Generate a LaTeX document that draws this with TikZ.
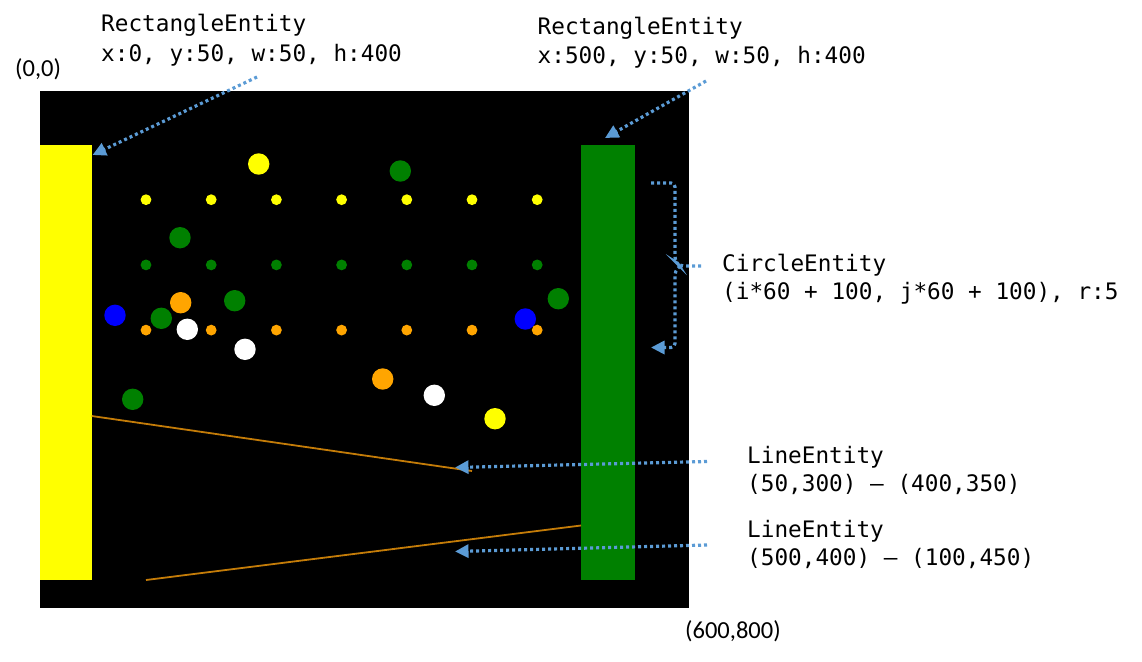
\documentclass[tikz,border=0pt]{standalone}
\usepackage{fontspec}
\newfontfamily\monofont{DejaVu Sans Mono}
\newfontfamily\calibfont{Carlito}
\usetikzlibrary{arrows.meta}
\definecolor{annoblue}{HTML}{5B9BD5}
\definecolor{entgreen}{HTML}{008000}
\definecolor{entyellow}{HTML}{FFFF00}
\definecolor{entorange}{HTML}{FFA500}
\definecolor{entblue}{HTML}{0000FF}
\definecolor{linebrown}{RGB}{196,124,8}
\tikzset{
  monolabel/.style={font=\monofont\fontsize{22.7}{28}\selectfont, anchor=base west, inner sep=0pt, text=black},
  coordlabel/.style={font=\calibfont\fontsize{24.5}{29}\selectfont, anchor=base west, inner sep=0pt, text=black},
  annoline/.style={draw=annoblue, line width=3.2pt, dash pattern=on 3pt off 3pt},
  annoarrow/.style={annoline, -{Triangle[length=13.5pt,width=13pt]}},
  bigdot/.style={radius=10.7},
  smalldot/.style={radius=5.4},
  entline/.style={draw=linebrown, line width=1.8pt}
}
\begin{document}
\begin{tikzpicture}[x=1pt,y=-1pt]
\useasboundingbox (0,0) rectangle (1142,661);
% canvas
\fill[black] (40,90.7) rectangle (689,607.7);
% rectangles
\fill[entyellow] (40,145.3) rectangle (91.7,579.5);
\fill[entgreen] (581,145.3) rectangle (635,579.5);
% lines
\draw[entline] (91.7,416) -- (472,471);
\draw[entline] (581,525.5) -- (146,580);
% big circles
\fill[entyellow] (258.7,164) circle[bigdot];
\fill[entgreen] (400.3,171) circle[bigdot];
\fill[entgreen] (180,237.7) circle[bigdot];
\fill[entorange] (180.7,302.7) circle[bigdot];
\fill[entgreen] (234.7,300.7) circle[bigdot];
\fill[entblue] (115,315.3) circle[bigdot];
\fill[entgreen] (161.3,318.3) circle[bigdot];
\fill[white] (187.3,329.3) circle[bigdot];
\fill[white] (245,349.3) circle[bigdot];
\fill[entorange] (382.7,379) circle[bigdot];
\fill[entgreen] (132.7,399.3) circle[bigdot];
\fill[white] (434.3,395.3) circle[bigdot];
\fill[entyellow] (495,418.7) circle[bigdot];
\fill[entblue] (525.3,319) circle[bigdot];
\fill[entgreen] (558.3,298.7) circle[bigdot];
% grid of small circles
\foreach \i in {0,...,6}{
  \fill[entyellow] ({146+65.2*\i},199.7) circle[smalldot];
  \fill[entgreen] ({146+65.2*\i},264.9) circle[smalldot];
  \fill[entorange] ({146+65.2*\i},330.1) circle[smalldot];
}
% coordinate labels
\node[coordlabel] (origin) at (15,76) {(0,0)};
\node[coordlabel] (corner) at (685,638.5) {(600,800)};
% annotation texts
\node[monolabel] (lrect1) at (101,32) {RectangleEntity};
\node[monolabel] (lrect2) at (101,61) {x:0, y:50, w:50, h:400};
\node[monolabel] (rrect1) at (537.5,35) {RectangleEntity};
\node[monolabel] (rrect2) at (537.5,63.5) {x:500, y:50, w:50, h:400};
\node[monolabel] (circ1) at (722,271) {CircleEntity};
\node[monolabel] (circ2) at (722,299) {(i*60 + 100, j*60 + 100), r:5};
\node[monolabel] (lineA1) at (747,463) {LineEntity};
\node[monolabel] (lineA2) at (747,491) {(50,300) – (400,350)};
\node[monolabel] (lineB1) at (747,537) {LineEntity};
\node[monolabel] (lineB2) at (747,565) {(500,400) – (100,450)};
% annotation connectors
\coordinate (lrtail) at (257,77);
\coordinate (lrtip) at (92.5,155);
\coordinate (rrtail) at (706,81);
\coordinate (rrtip) at (605,138);
\coordinate (ctop) at (651,183);
\coordinate (cmid) at (701,266);
\coordinate (cjoin) at (680,266);
\coordinate (ctip) at (651,347.5);
\coordinate (latail) at (707,461.5);
\coordinate (latip) at (455,467.5);
\coordinate (lbtail) at (707,545);
\coordinate (lbtip) at (455,551.5);
\draw[annoarrow] (lrtail) -- (lrtip);
\draw[annoarrow] (rrtail) -- (rrtip);
\draw[annoline, rounded corners=4pt] (cmid) -- (cjoin) -- ++(-5,-5) |- (ctop);
\draw[annoarrow, rounded corners=4pt] (cjoin) -- ++(-5,5) |- (ctip);
\draw[annoarrow] (latail) -- (latip);
\draw[annoarrow] (lbtail) -- (lbtip);
\end{tikzpicture}
\end{document}
